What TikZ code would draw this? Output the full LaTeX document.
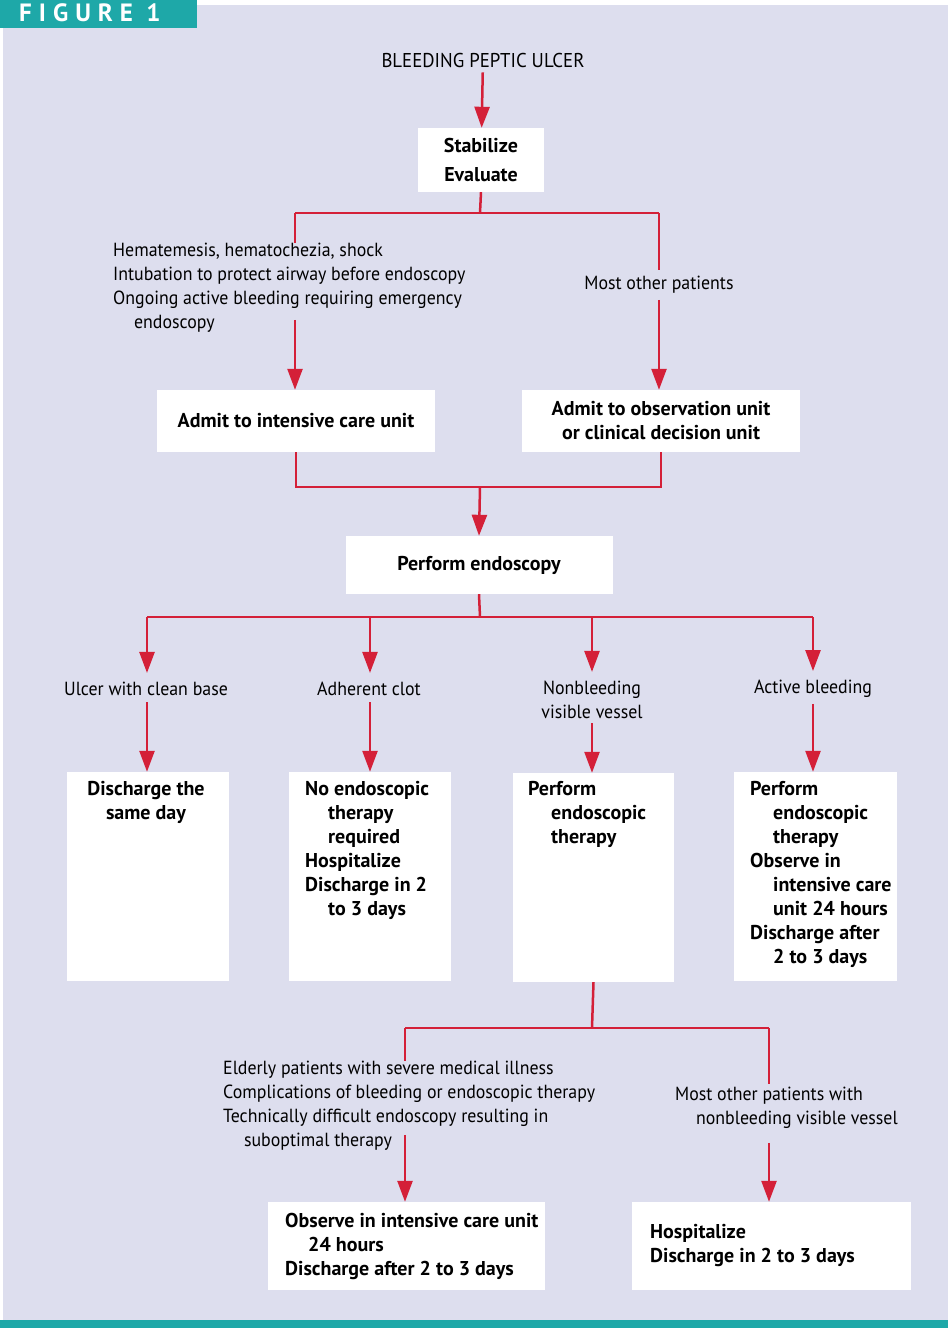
\documentclass[tikz,border=0pt]{standalone}
\usepackage{fontspec}
\setmainfont{PT Sans}[FakeStretch=0.94, BoldFeatures={FakeStretch=1.0}]
\usetikzlibrary{arrows.meta}
\definecolor{bg}{RGB}{221,222,238}
\definecolor{tealc}{RGB}{30,168,168}
\definecolor{redl}{RGB}{212,32,56}
\begin{document}
\begin{tikzpicture}[x=1pt,y=-1pt,
  line/.style={draw=redl, line width=2.5pt},
  arr/.style={line, -{Triangle[length=21pt,width=15pt]}},
  box/.style={fill=white, draw=none, inner sep=0pt},
  lab/.style={font=\fontsize{19}{24}\selectfont, align=left, inner sep=0pt},
  btext/.style={font=\bfseries\fontsize{20}{24}\selectfont, align=left, inner sep=0pt},
]
\useasboundingbox (0,0) rectangle (948,1328);
\fill[white] (0,0) rectangle (948,1328);
\fill[bg] (3,5) rectangle (948,1320);
\fill[tealc] (0,1320) rectangle (948,1328);
\fill[tealc] (0,0) rectangle (197,28);
\node[text=white, inner sep=0pt, anchor=west, font=\bfseries\fontsize{25}{25}\selectfont\addfontfeatures{LetterSpace=28}] (fig) at (19,13) {FIGURE 1};

% top
\node[lab, font=\fontsize{20}{24}\selectfont] (title) at (483,60) {BLEEDING PEPTIC ULCER};
\node[box, minimum width=126, minimum height=64, btext, align=center, font=\bfseries\fontsize{20}{29}\selectfont] (stab) at (481,160) {Stabilize\\Evaluate};
\draw[arr, shorten <=5pt] (title) -- (stab);

\coordinate (j1) at (480,213);
\coordinate (jl) at (295,213);
\coordinate (jr) at (659,213);
\draw[line] (stab.south) -- (j1);
\draw[line] (jl) -- (jr);

\node[box, minimum width=278, minimum height=62, btext] (icu) at (296,421) {Admit to intensive care unit};
\node[box, minimum width=278, minimum height=62, btext, align=center] (obs) at (661,421) {Admit to observation unit\\or clinical decision unit};

\node[lab, anchor=north west] (llab) at (113,243) {Hematemesis, hematochezia, shock\\Intubation to protect airway before endoscopy\\Ongoing active bleeding requiring emergency\\\hspace*{1.1em}endoscopy};
\node[lab] (rlab) at (659,285) {Most other patients};

\draw[line] (jl) -- (jl |- llab.north);
\draw[arr] ([yshift=13pt]jl |- llab.south) -- (jl |- icu.north);
\draw[line, shorten >=6pt] (jr) -- (rlab.north);
\draw[arr, shorten <=6pt] (rlab.south) -- (jr |- obs.north);

\coordinate (m) at (480,487);
\draw[line] (icu.south) |- (m) -| (obs.south);

\node[box, minimum width=267, minimum height=58, btext] (endo) at (479,565) {Perform endoscopy};
\draw[arr] (m) -- (endo.north);

\coordinate (j2) at (480,617);
\coordinate (c1) at (147,617);
\coordinate (c2) at (370,617);
\coordinate (c3) at (592,617);
\coordinate (c4) at (813,617);
\draw[line] (endo.south) -- (j2);
\draw[line] (c1) -- (c4);

\node[lab] (l1) at (146,689) {Ulcer with clean base};
\node[lab] (l2) at (369,689) {Adherent clot};
\node[lab, align=center] (l3) at (592,700) {Nonbleeding\\visible vessel};
\node[lab] (l4) at (813,689) {Active bleeding};

\node[box, minimum width=162, minimum height=209] (b1) at (148,876.5) {};
\node[box, minimum width=162, minimum height=209] (b2) at (370,876.5) {};
\node[box, minimum width=161, minimum height=209] (b3) at (593.5,877.5) {};
\node[box, minimum width=163, minimum height=209] (b4) at (815.5,876.5) {};

\draw[arr, shorten >=9pt] (c1) -- (c1 |- l1.north);
\draw[arr, shorten >=9pt] (c2) -- (c2 |- l2.north);
\draw[arr, shorten >=9pt] (c3) -- (c3 |- l3.north);
\draw[arr, shorten >=9pt] (c4) -- (c4 |- l4.north);
\draw[arr, shorten <=6pt] (c1 |- l1.south) -- (c1 |- b1.north);
\draw[arr, shorten <=6pt] (c2 |- l2.south) -- (c2 |- b2.north);
\draw[arr, shorten <=4pt] (c3 |- l3.south) -- (c3 |- b3.north);
\draw[arr, shorten <=6pt] (c4 |- l4.south) -- (c4 |- b4.north);

\node[btext, align=center, anchor=north] (t1) at (146,781) {Discharge the\\same day};
\node[btext, anchor=north west] (t2) at (305,781) {No endoscopic\\\hspace*{1.15em}therapy\\\hspace*{1.15em}required\\Hospitalize\\Discharge in 2\\\hspace*{1.15em}to 3 days};
\node[btext, anchor=north west] (t3) at (528,781) {Perform\\\hspace*{1.15em}endoscopic\\\hspace*{1.15em}therapy};
\node[btext, anchor=north west] (t4) at (750,781) {Perform\\\hspace*{1.15em}endoscopic\\\hspace*{1.15em}therapy\\Observe in\\\hspace*{1.15em}intensive care\\\hspace*{1.15em}unit 24 hours\\Discharge after\\\hspace*{1.15em}2 to 3 days};

% bottom
\coordinate (j3) at (592,1028);
\coordinate (d1) at (405,1028);
\coordinate (d2) at (769,1028);
\draw[line] (b3.south) -- (j3);
\draw[line] (d1) -- (d2);

\node[lab, anchor=north west] (blab) at (223,1061) {Elderly patients with severe medical illness\\Complications of bleeding or endoscopic therapy\\Technically difficult endoscopy resulting in\\\hspace*{1.1em}suboptimal therapy};
\node[lab, anchor=north west] (brlab) at (675,1087) {Most other patients with\\\hspace*{1.1em}nonbleeding visible vessel};

\node[box, minimum width=277, minimum height=88] (bb1) at (406.5,1246) {};
\node[box, minimum width=279, minimum height=88] (bb2) at (771.5,1246) {};
\node[btext, anchor=west] (bt1) at (285,1246) {Observe in intensive care unit\\\hspace*{1.15em}24 hours\\Discharge after 2 to 3 days};
\node[btext, anchor=west] (bt2) at (650,1245) {Hospitalize\\Discharge in 2 to 3 days};

\draw[line] (d1) -- (d1 |- blab.north);
\draw[arr] ([yshift=16pt]d1 |- blab.south) -- (d1 |- bb1.north);
\draw[line, shorten >=3pt] (d2) -- (d2 |- brlab.north);
\draw[arr, shorten <=14pt] (d2 |- brlab.south) -- (d2 |- bb2.north);
\end{tikzpicture}
\end{document}
